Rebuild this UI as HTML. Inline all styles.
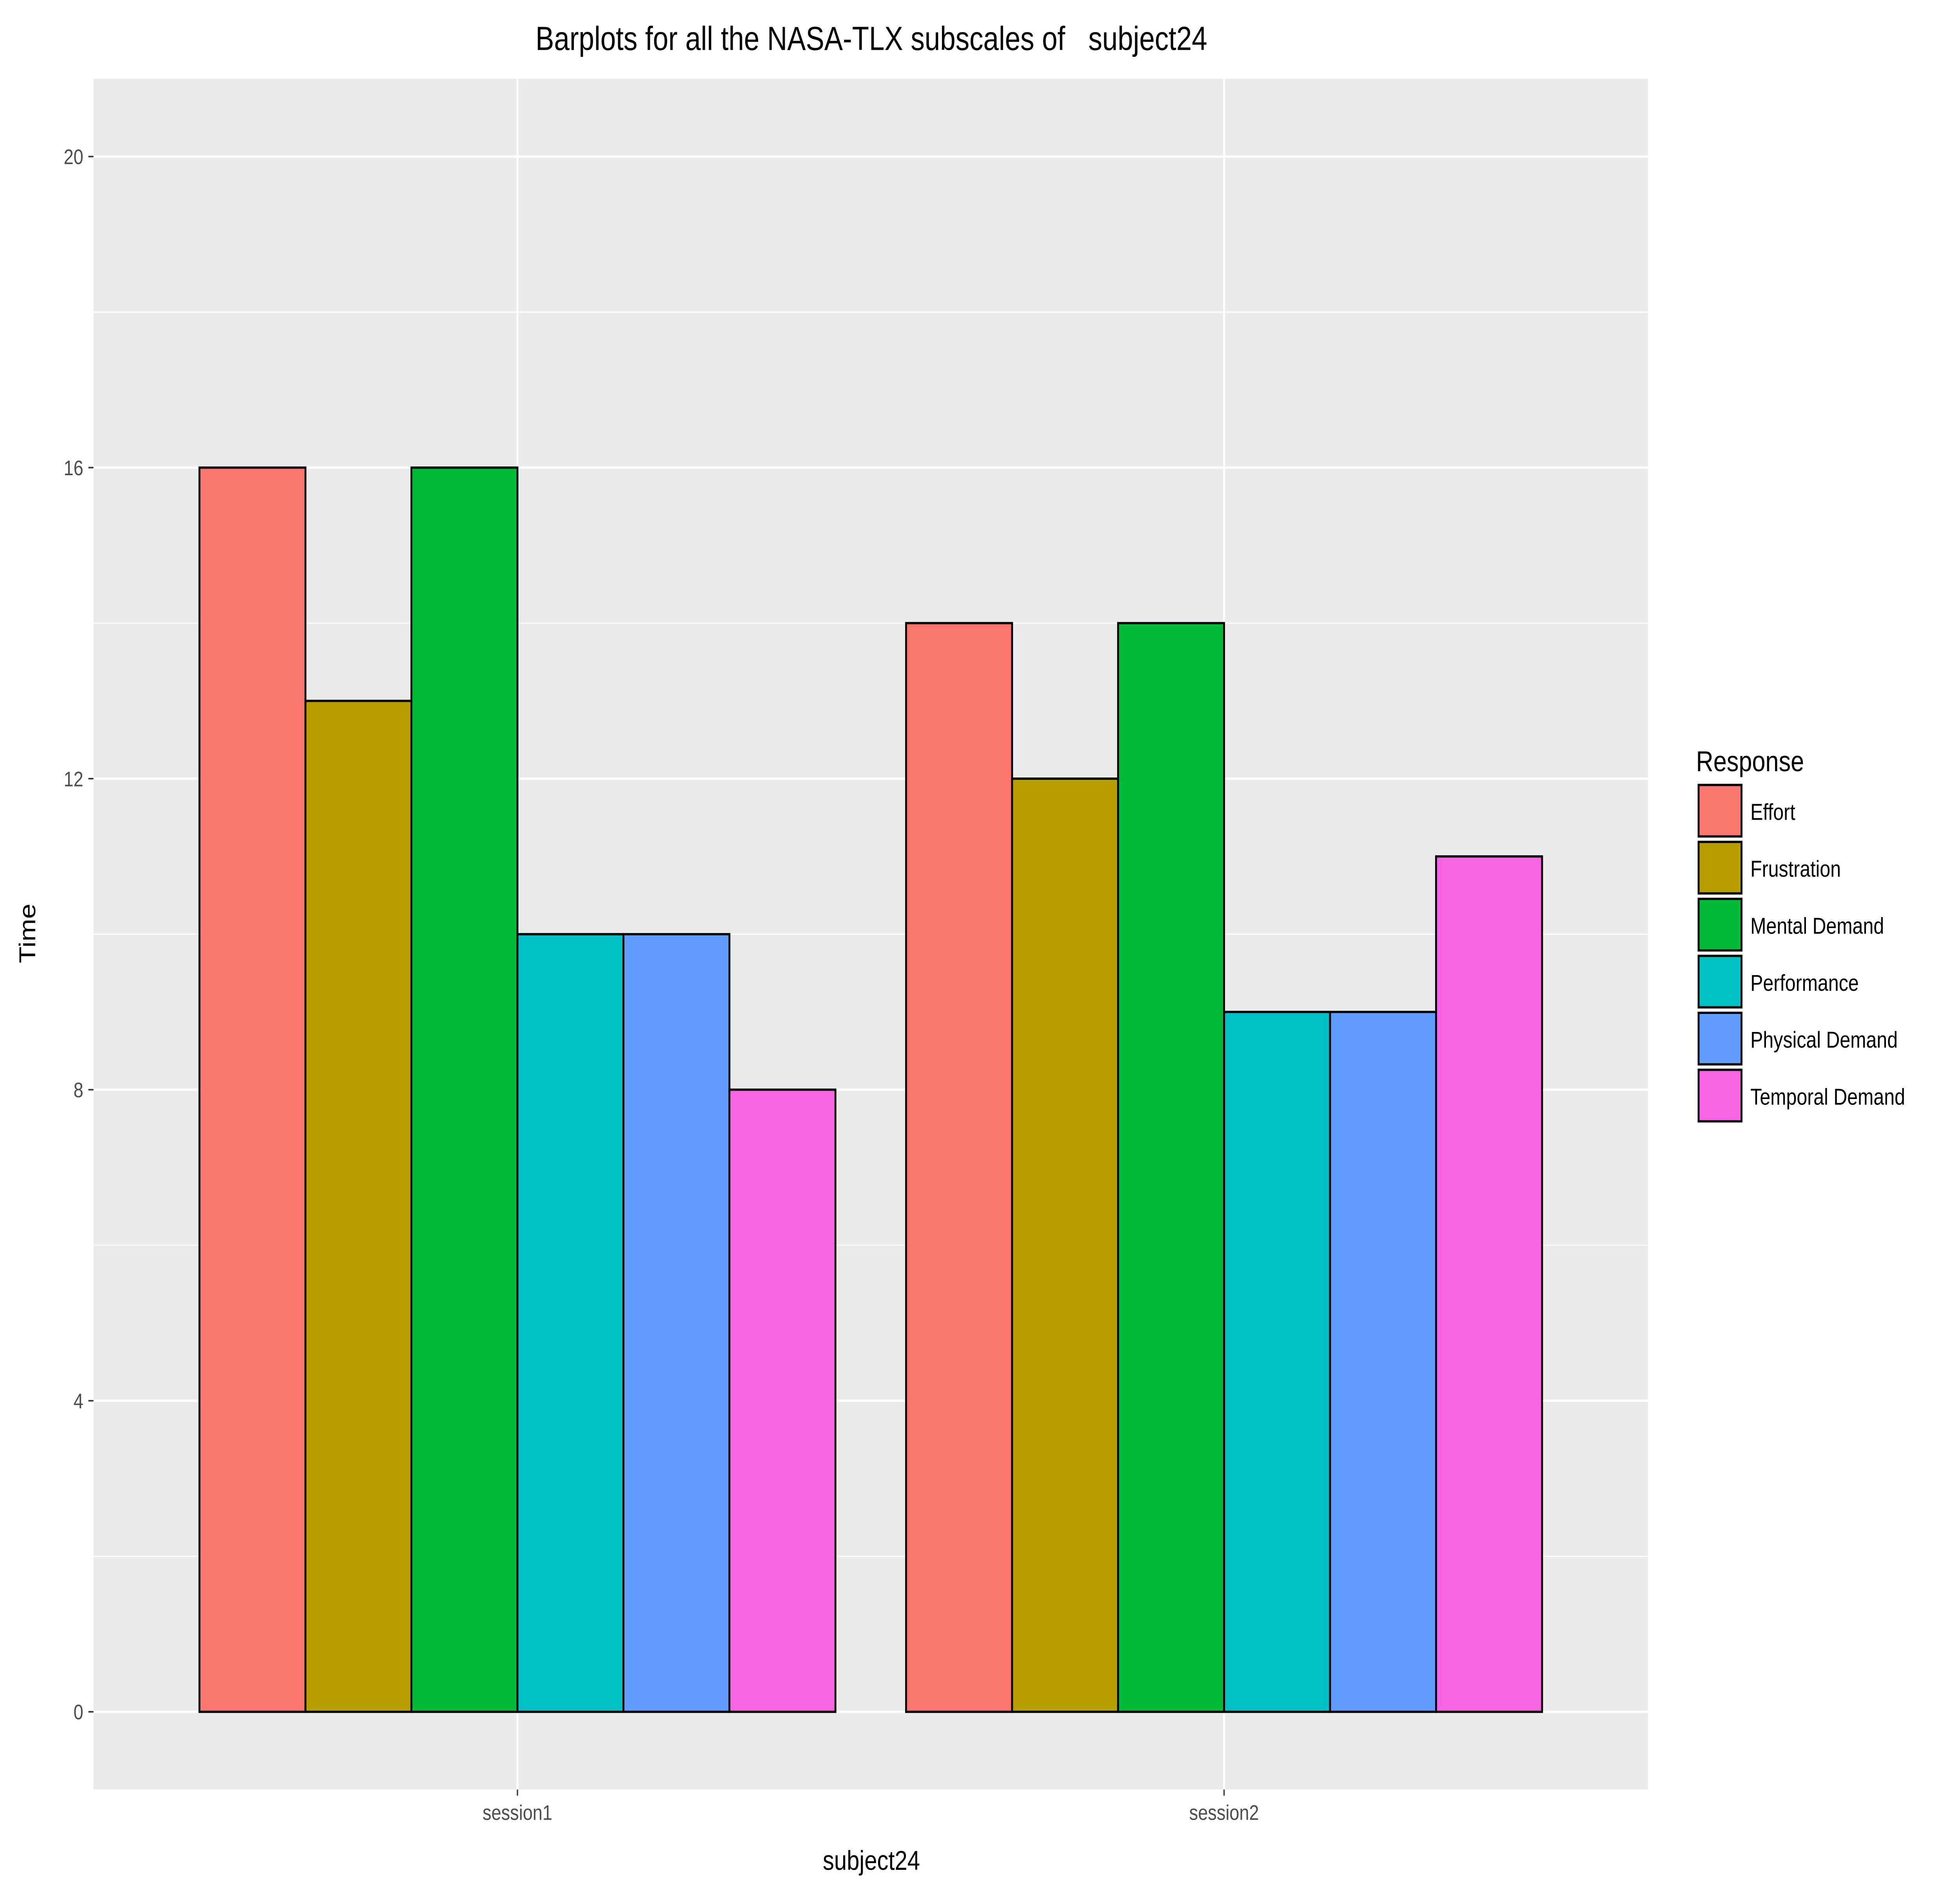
<!DOCTYPE html>
<html><head><meta charset="utf-8"><style>html,body{margin:0;padding:0;background:#fff;width:100%;height:100%;overflow:hidden}svg{display:block;position:fixed;left:0;top:0;width:100vw;height:100vh}text{white-space:pre}</style></head>
<body>
<svg id="chart" viewBox="0 0 1552 1242" preserveAspectRatio="none" xmlns="http://www.w3.org/2000/svg" font-family="Liberation Sans, Arial, sans-serif">
<rect x="0" y="0" width="1552" height="1242" fill="#fff"/>
<rect x="74" y="52" width="1231" height="1129" fill="#ebebeb"/>
<g id="grid"></g>
<g id="bars"></g>
<g id="axes"></g>
<text x="690" y="33" font-size="22" text-anchor="middle" fill="#000" xml:space="preserve">Barplots for all the NASA-TLX subscales of   subject24</text>
<text x="690" y="1234" font-size="18" text-anchor="middle" fill="#000">subject24</text>
<text transform="translate(28,616) rotate(-90)" font-size="18" text-anchor="middle" fill="#000">Time</text>
<g id="legend">
<text x="1343" y="509" font-size="19" fill="#000">Response</text>
</g>
</svg>
<script>
const categories = ["session1", "session2"];
const seriesNames = ["Effort", "Frustration", "Mental Demand", "Performance", "Physical Demand", "Temporal Demand"];
const effort = [16, 14];
const frustration = [13, 12];
const mentalDemand = [16, 14];
const performance = [10, 9];
const physicalDemand = [10, 9];
const temporalDemand = [8, 11];
const yTicks = [0, 4, 8, 12, 16, 20];
const yMinor = [2, 6, 10, 14, 18];

const series = [effort, frustration, mentalDemand, performance, physicalDemand, temporalDemand];
const colors = ["#F8766D", "#B79F00", "#00BA38", "#00BFC4", "#619CFF", "#F564E3"];
const NS = "http://www.w3.org/2000/svg";
const px0 = 74, px1 = 1305, py0 = 52, py1 = 1181;
const xMin = 0.4, xMax = categories.length + 0.6, yMin = -1, yMax = 21;
const xs = v => px0 + (v - xMin) / (xMax - xMin) * (px1 - px0);
const ys = v => py1 - (v - yMin) / (yMax - yMin) * (py1 - py0);
function mk(tag, attrs, parent) { const e = document.createElementNS(NS, tag); for (const k in attrs) e.setAttribute(k, attrs[k]); parent.appendChild(e); return e; }
const grid = document.getElementById('grid'), bars = document.getElementById('bars'), axes = document.getElementById('axes'), legend = document.getElementById('legend');
yMinor.forEach(v => { const l = mk('line', {x1: px0, x2: px1, y1: ys(v), y2: ys(v), stroke: '#fff', 'stroke-width': 0.7}, grid);
  
   });
yTicks.forEach(v => { const l = mk('line', {x1: px0, x2: px1, y1: ys(v), y2: ys(v), stroke: '#fff', 'stroke-width': 1.5}, grid);
  
  
  const t = mk('line', {x1: px0 - 4, x2: px0, y1: ys(v), y2: ys(v), stroke: '#333', 'stroke-width': 1}, axes);
  
  
  const tx = mk('text', {x: px0 - 8, y: ys(v) + 5, 'font-size': 14, 'text-anchor': 'end', fill: '#4d4d4d'}, axes);
  tx.textContent = v;
  
   });
categories.forEach((c, i) => { const x = xs(i + 1);
  const l = mk('line', {x1: x, x2: x, y1: py0, y2: py1, stroke: '#fff', 'stroke-width': 1.5}, grid);
  
  
  const t = mk('line', {x1: x, x2: x, y1: py1, y2: py1 + 4, stroke: '#333', 'stroke-width': 1}, axes);
  
  
  const tx = mk('text', {x: x, y: py1 + 20, 'font-size': 14, 'text-anchor': 'middle', fill: '#4d4d4d'}, axes);
  tx.textContent = c;
  
  
  const n = series.length, w = 0.9 / n;
  series.forEach((s, j) => { const left = i + 1 - 0.45 + j * w;
    const r = mk('rect', {x: xs(left), y: ys(s[i]), width: xs(left + w) - xs(left), height: ys(0) - ys(s[i]), fill: colors[j], stroke: '#000', 'stroke-width': 1.5}, bars);
    
     }); });
seriesNames.forEach((nm, j) => { const y = 518 + j * 37.6;
  const r = mk('rect', {x: 1345, y: y, width: 34, height: 34, fill: colors[j], stroke: '#000', 'stroke-width': 1.5}, legend);
  
  
  const t = mk('text', {x: 1386, y: y + 23, 'font-size': 15, fill: '#000'}, legend);
  t.textContent = nm;
  
   });
</script>
</body></html>
